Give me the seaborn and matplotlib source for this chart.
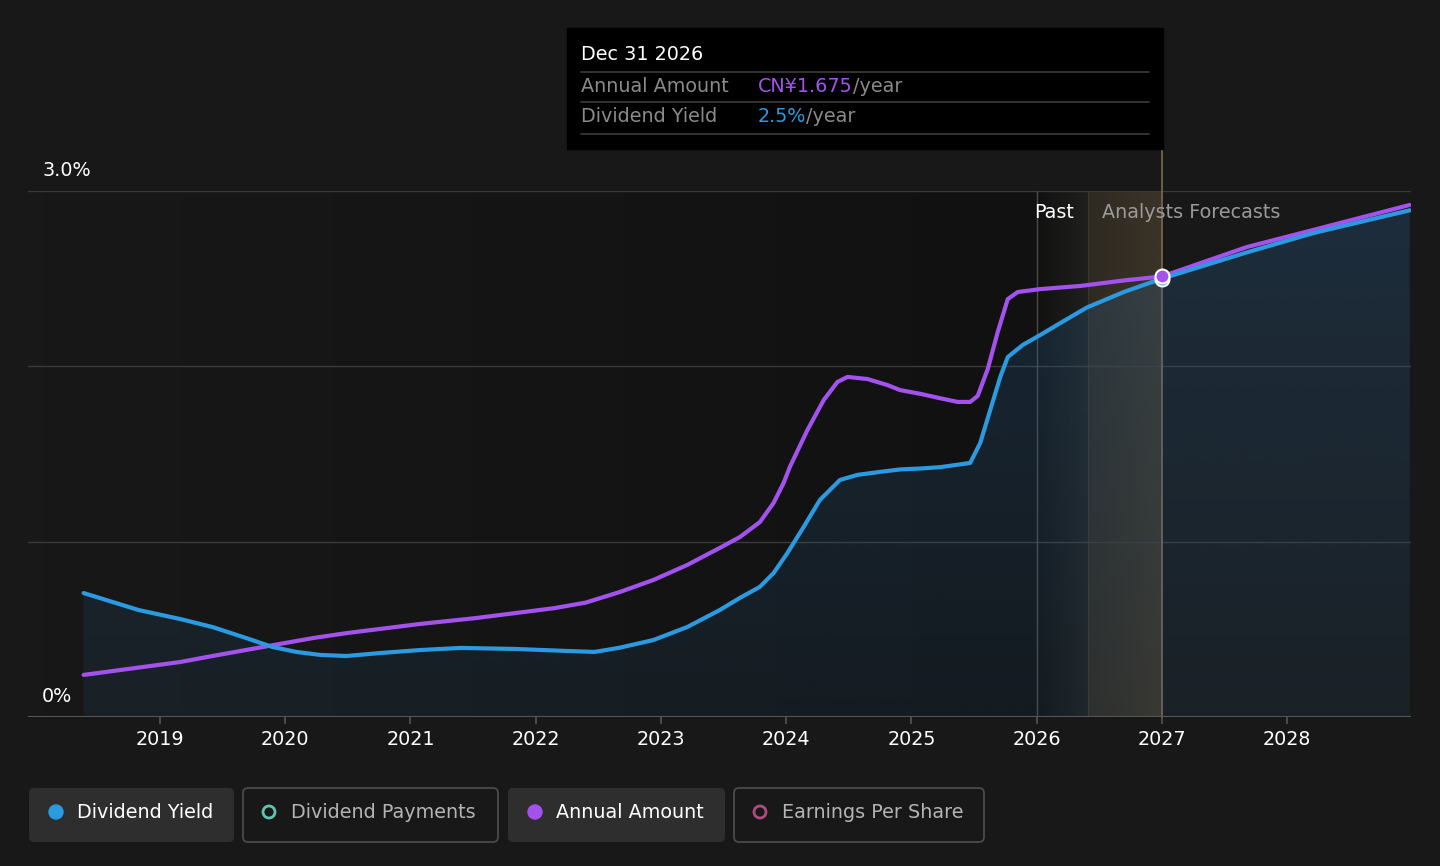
import numpy as np
import seaborn as sns
import matplotlib.pyplot as plt
from matplotlib.patches import FancyBboxPatch, Circle, Rectangle
from matplotlib.colors import to_rgb

# dividend yield (%)
yield_years = [2018.39, 2018.83, 2019.16, 2019.42, 2019.69, 2019.90, 2020.09, 2020.28,
               2020.49, 2020.76, 2021.08, 2021.40, 2021.84, 2022.20, 2022.47, 2022.67,
               2022.94, 2023.21, 2023.47, 2023.63, 2023.79, 2023.90, 2024.01, 2024.14,
               2024.27, 2024.43, 2024.57, 2024.75, 2024.91, 2025.09, 2025.23, 2025.47,
               2025.55, 2025.63, 2025.71, 2025.77, 2025.89, 2026.03, 2026.19, 2026.40,
               2026.70, 2027.0, 2027.68, 2028.21, 2028.98]
yield_pct = [0.707, 0.610, 0.559, 0.513, 0.450, 0.399, 0.371, 0.354,
             0.348, 0.365, 0.382, 0.394, 0.388, 0.378, 0.371, 0.395,
             0.439, 0.513, 0.610, 0.679, 0.742, 0.821, 0.935, 1.084,
             1.238, 1.352, 1.381, 1.398, 1.412, 1.418, 1.425, 1.449,
             1.563, 1.751, 1.939, 2.053, 2.122, 2.179, 2.247, 2.335,
             2.425, 2.50, 2.65, 2.76, 2.89]

# annual amount (CN¥)
amount_years = [2018.39, 2019.16, 2019.42, 2019.69, 2019.96, 2020.22, 2020.49, 2020.76,
                2021.08, 2021.52, 2022.15, 2022.40, 2022.67, 2022.94, 2023.21, 2023.47,
                2023.63, 2023.79, 2023.90, 2023.98, 2024.03, 2024.17, 2024.30, 2024.41,
                2024.49, 2024.65, 2024.81, 2024.91, 2025.08, 2025.23, 2025.37, 2025.47,
                2025.53, 2025.61, 2025.69, 2025.77, 2025.85, 2026.03, 2026.35, 2026.70,
                2027.0, 2027.68, 2028.21, 2028.98]
amount_cny = [0.160, 0.209, 0.232, 0.255, 0.278, 0.300, 0.319, 0.335,
              0.354, 0.376, 0.414, 0.435, 0.475, 0.521, 0.578, 0.643,
              0.684, 0.741, 0.814, 0.890, 0.951, 1.091, 1.205, 1.274,
              1.293, 1.285, 1.262, 1.243, 1.228, 1.212, 1.198, 1.198,
              1.221, 1.323, 1.464, 1.589, 1.616, 1.627, 1.639, 1.660,
              1.675, 1.787, 1.852, 1.947]

x_ticks = list(range(2019, 2029))
y_labels = {3.0: "3.0%", 0.0: "0%"}

BG = "#181818"
BLUE = "#2b9ae0"
PURPLE = "#a452ee"
FS = 13.8

sns.set_theme(style="dark")
plt.rcParams['font.family'] = ['DejaVu Sans']

fig = plt.figure(figsize=(14.4, 8.66), dpi=100, facecolor=BG)
ax = fig.add_axes([28 / 1440, 1 - 717 / 866, (1411 - 28) / 1440, 526 / 866])
ax.set_facecolor(BG)
x0, x1 = 2017.946, 2028.99
ax.set_xlim(x0, x1)
ax.set_ylim(0, 3)

# past area slowly darkens towards the present
grad = np.zeros((1, 256, 4))
grad[..., 3] = np.linspace(0, 0.3, 256)
ax.imshow(grad, extent=[x0, 2026.41, 0, 3], aspect='auto', zorder=0, interpolation='bilinear')

# bands around the forecast boundary
band_a = np.zeros((1, 256, 4))
band_a[..., :3] = to_rgb("#9a9888")
band_a[..., 3] = np.linspace(0.0, 0.12, 256)
ax.imshow(band_a, extent=[2026.0, 2026.41, 0, 3], aspect='auto', zorder=0.5, interpolation='bilinear')
band_b = np.zeros((1, 256, 4))
band_b[..., :3] = to_rgb("#c8a064")
band_b[..., 3] = np.linspace(0.13, 0.2, 256)
ax.imshow(band_b, extent=[2026.41, 2027.0, 0, 3], aspect='auto', zorder=0.5, interpolation='bilinear')

# gridlines
for yv in [1, 2, 3]:
    ax.axhline(yv, color="#3a3a3a", lw=1, zorder=1)
ax.axhline(0, color="#555555", lw=1.5, zorder=3)
ax.axvline(2026.0, color="#4a4a4a", lw=1, zorder=1)
ax.axvline(2027.0, ymin=0, ymax=(717 - 149) / 526, color="#7a6c50", lw=1.2, zorder=1, clip_on=False)

# gradient fill under the yield line
poly = ax.fill_between(yield_years, yield_pct, 0, color='none', lw=0)
fill = np.zeros((256, 1, 4))
fill[..., :3] = to_rgb("#2a6496")
fill[..., 3] = np.linspace(0.12 + 0.055 * 3, 0.12, 256)[:, None]
img = ax.imshow(fill, extent=[x0, x1, 0, 3], aspect='auto', zorder=2, interpolation='bilinear')
img.set_clip_path(poly.get_paths()[0], transform=ax.transData)

for s in ax.spines.values():
    s.set_visible(False)
ax.set_xticks(x_ticks)
ax.set_xticklabels([str(t) for t in x_ticks])
ax.set_yticks([])
ax.tick_params(axis='x', direction='out', length=5, width=1.2, color="#555555",
               labelcolor="white", labelsize=FS, pad=4.5, bottom=True)
ax.grid(False)

ax.text(2026.30, 2.88, "Past", color="white", fontsize=FS, ha="right", va="center", zorder=5)
ax.text(2026.52, 2.88, "Analysts Forecasts", color="#9a9a9a", fontsize=FS, ha="left",
        va="center", zorder=5)

# annual amount on its own scale
ax2 = ax.twinx()
sns.lineplot(x=amount_years, y=amount_cny, ax=ax2, color=PURPLE, lw=3, sort=False,
             estimator=None, solid_capstyle='round', solid_joinstyle='round')
ax2.set_ylim(0, 2.0)

# yield line on top
ax3 = ax.twinx()
sns.lineplot(x=yield_years, y=yield_pct, ax=ax3, color=BLUE, lw=3, sort=False,
             estimator=None, solid_capstyle='round', solid_joinstyle='round')
ax3.set_ylim(0, 3)
ax3.plot([2027.0], [yield_pct[yield_years.index(2027.0)]], 'o', ms=10, mfc=BLUE, mec='white', mew=1.5)
ax3.plot([2027.0], [amount_cny[amount_years.index(2027.0)]], 'o', ms=10, mfc=PURPLE, mec='white',
         mew=1.5, transform=ax2.transData)

for a in (ax2, ax3):
    a.set_yticks([])
    a.set_ylabel("")
    a.grid(False)
    for s in a.spines.values():
        s.set_visible(False)
ax.set_xlim(x0, x1)

# y labels
fig.text(42 / 1440, 1 - 170 / 866, y_labels[3.0], color="white", fontsize=FS, va="center")
fig.text(42 / 1440, 1 - 697 / 866, y_labels[0.0], color="white", fontsize=FS, va="center")

# overlay in pixel coordinates for tooltip and legend
ov = fig.add_axes([0, 0, 1, 1], zorder=10)
ov.set_xlim(0, 1440)
ov.set_ylim(866, 0)
ov.axis('off')
ov.patch.set_alpha(0)
renderer = fig.canvas.get_renderer()


def put_parts(x, y, parts):
    for txt, col in parts:
        t = ov.text(x, y, txt, color=col, fontsize=FS, va="center", ha="left")
        x += t.get_window_extent(renderer).width


ov.add_patch(Rectangle((567, 28), 596, 121, color="black", zorder=1))
for yy in [72, 102, 134]:
    ov.plot([581, 1149], [yy, yy], color="#3d3d3d", lw=1.2, zorder=2)
put_parts(581, 55, [("Dec 31 2026", "white")])
put_parts(581, 87, [("Annual Amount", "#8a8a8a")])
put_parts(758, 87, [("CN¥1.675", PURPLE), ("/year", "#8a8a8a")])
put_parts(581, 117, [("Dividend Yield", "#8a8a8a")])
put_parts(758, 117, [("2.5%", BLUE), ("/year", "#8a8a8a")])

legend_items = [
    ("Dividend Yield", 29, 234, BLUE, True),
    ("Dividend Payments", 243, 498, "#5ec4b0", False),
    ("Annual Amount", 508, 725, PURPLE, True),
    ("Earnings Per Share", 734, 984, "#b04a80", False),
]
for label, lx0, lx1, col, active in legend_items:
    box = FancyBboxPatch((lx0, 788), lx1 - lx0, 54, boxstyle="round,pad=0,rounding_size=5",
                         facecolor="#2e2e2e" if active else BG,
                         edgecolor="none" if active else "#4a4a4a", lw=1.3)
    ov.add_patch(box)
    if active:
        ov.add_patch(Circle((lx0 + 27, 812), 7, color=col))
    else:
        ov.add_patch(Circle((lx0 + 26, 812), 6, facecolor="none", edgecolor=col, lw=2))
    put_parts(lx0 + 48, 812, [(label, "white" if active else "#b4b4b4")])

fig.savefig("out.png", dpi=100, facecolor=BG)
